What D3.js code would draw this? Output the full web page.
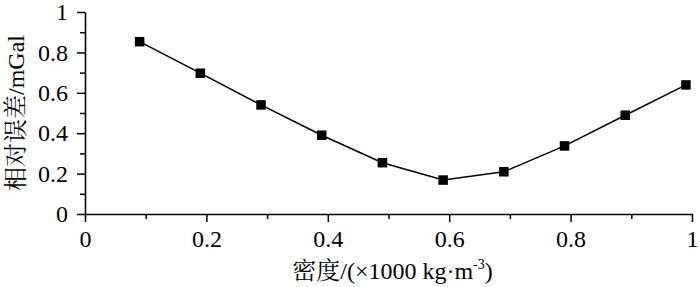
<!DOCTYPE html>
<html>
<head>
<meta charset="utf-8">
<script src="https://cdn.jsdelivr.net/npm/d3@7"></script>
<style>
html,body{margin:0;padding:0;background:#fff;}
svg{display:block;}
</style>
</head>
<body>
<svg id="chart" width="700" height="287"></svg>
<script>
const densities = [0.09, 0.19, 0.29, 0.39, 0.49, 0.59, 0.69, 0.79, 0.89, 0.99];
const errors = [0.853, 0.697, 0.540, 0.390, 0.254, 0.168, 0.209, 0.337, 0.489, 0.639];
const xTicks = [0, 0.2, 0.4, 0.6, 0.8, 1];
const xTickLabels = ["0", "0.2", "0.4", "0.6", "0.8", "1"];
const yTicks = [0, 0.2, 0.4, 0.6, 0.8, 1];
const yTickLabels = ["0", "0.2", "0.4", "0.6", "0.8", "1"];
const minorTicks = [0.1, 0.3, 0.5, 0.7, 0.9];
const xTitle = "密度/(×1000 kg·m";
const xTitleSup = "-3";
const yTitle = "相对误差/mGal";

const FONT = "'Liberation Serif','Times New Roman','Noto Serif CJK SC','Noto Sans CJK SC',serif";
const svg = d3.select("#chart");
const m = {left: 85, right: 8, top: 12, bottom: 73};
const W = 700, H = 287;
const x = d3.scaleLinear().domain([0, 1]).range([m.left, W - m.right]);
const y = d3.scaleLinear().domain([0, 1]).range([H - m.bottom, m.top]);

// minor ticks
svg.append("g").attr("transform", `translate(0,${y(0)})`)
  .call(d3.axisBottom(x).tickValues(minorTicks).tickSize(5).tickSizeOuter(0).tickFormat(""))
  .call(g => g.select(".domain").remove());
svg.append("g").attr("transform", `translate(${x(0)},0)`)
  .call(d3.axisLeft(y).tickValues(minorTicks).tickSize(5).tickSizeOuter(0).tickFormat(""))
  .call(g => g.select(".domain").remove());

// major axes
svg.append("g").attr("transform", `translate(0,${y(0)})`)
  .call(d3.axisBottom(x).tickValues(xTicks).tickSize(8).tickSizeOuter(0)
    .tickPadding(8).tickFormat((d, i) => xTickLabels[i]));
svg.append("g").attr("transform", `translate(${x(0)},0)`)
  .call(d3.axisLeft(y).tickValues(yTicks).tickSize(8).tickSizeOuter(0)
    .tickPadding(9).tickFormat((d, i) => yTickLabels[i]));

svg.selectAll(".tick line").attr("stroke", "#000").attr("stroke-width", 1.5);
svg.selectAll(".domain").attr("stroke", "#000").attr("stroke-width", 1.6);
svg.selectAll(".tick text").style("font-size", "24px")
  .style("font-family", FONT).attr("fill", "#000");

// line
const pts = densities.map((d, i) => [d, errors[i]]);
svg.append("path").datum(pts)
  .attr("fill", "none").attr("stroke", "#000").attr("stroke-width", 1.5)
  .attr("d", d3.line().x(d => x(d[0])).y(d => y(d[1])));

// markers
const s = 9.5;
svg.selectAll("rect.mk").data(pts).enter().append("rect").attr("class", "mk")
  .attr("x", d => x(d[0]) - s / 2).attr("y", d => y(d[1]) - s / 2)
  .attr("width", s).attr("height", s).attr("fill", "#000");

// x title
const xt = svg.append("text").attr("x", (x(0) + x(1)) / 2 + 4).attr("y", 279)
  .attr("text-anchor", "middle").style("font-size", "24px").style("font-family", FONT).attr("fill", "#000");
xt.append("tspan").text(xTitle);
xt.append("tspan").style("font-size", "14px").attr("dy", -10).text(xTitleSup);
xt.append("tspan").attr("dy", 10).text(")");

// y title
svg.append("text")
  .attr("transform", `translate(24,${(y(0) + y(1)) / 2}) rotate(-90)`)
  .attr("text-anchor", "middle").style("font-size", "24px").style("font-family", FONT)
  .attr("fill", "#000").text(yTitle);
</script>
</body>
</html>
